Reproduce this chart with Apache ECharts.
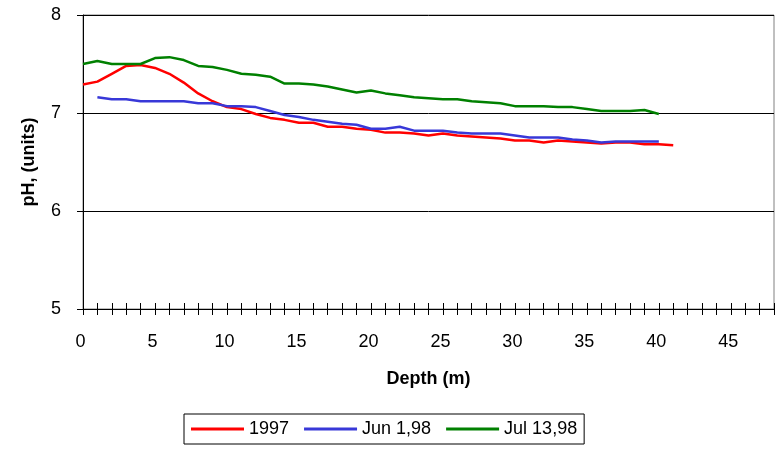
<!DOCTYPE html>
<html>
<head>
<meta charset="utf-8">
<script src="https://cdn.jsdelivr.net/npm/echarts@6/dist/echarts.min.js"></script>
<style>
  html, body { margin: 0; padding: 0; background: #fff; }
  #chart { width: 779px; height: 450px; }
</style>
</head>
<body>
<div id="chart"></div>
<script>
// pH profiles against depth (m)
const seriesNames = ['1997', 'Jun 1,98', 'Jul 13,98'];

const depth1997 = [0,1,2,3,4,5,6,7,8,9,10,11,12,13,14,15,16,17,18,19,20,
  21,22,23,24,25,26,27,28,29,30,31,32,33,34,35,36,37,38,39,40,41];
const ph1997 = [7.29,7.32,7.40,7.48,7.49,7.46,7.40,7.31,7.20,7.12,7.06,7.04,6.99,6.95,6.93,6.90,6.90,6.86,6.86,6.84,6.83,
  6.80,6.80,6.79,6.77,6.79,6.77,6.76,6.75,6.74,6.72,6.72,6.70,6.72,6.71,6.70,6.69,6.70,6.70,6.68,6.68,6.67];

const depthJun = [1,2,3,4,5,6,7,8,9,10,11,12,13,14,15,16,17,18,19,20,
  21,22,23,24,25,26,27,28,29,30,31,32,33,34,35,36,37,38,39,40];
const phJun = [7.16,7.14,7.14,7.12,7.12,7.12,7.12,7.10,7.10,7.07,7.07,7.06,7.02,6.98,6.96,6.93,6.91,6.89,6.88,6.84,
  6.84,6.86,6.82,6.82,6.82,6.80,6.79,6.79,6.79,6.77,6.75,6.75,6.75,6.73,6.72,6.70,6.71,6.71,6.71,6.71];

const depthJul = [0,1,2,3,4,5,6,7,8,9,10,11,12,13,14,15,16,17,18,19,20,
  21,22,23,24,25,26,27,28,29,30,31,32,33,34,35,36,37,38,39,40];
const phJul = [7.50,7.53,7.50,7.50,7.50,7.56,7.57,7.54,7.48,7.47,7.44,7.40,7.39,7.37,7.30,7.30,7.29,7.27,7.24,7.21,7.23,
  7.20,7.18,7.16,7.15,7.14,7.14,7.12,7.11,7.10,7.07,7.07,7.07,7.06,7.06,7.04,7.02,7.02,7.02,7.03,6.99];

const xMin = 0, xMax = 48, xStep = 1, xLabelEvery = 5;
const yMin = 5, yMax = 8, yStep = 1;

const colors = ['#ff0000', '#3838d8', '#008000'];
const FONT = 'Liberation Sans, Arial, sans-serif';

function pairs(xs, ys) { return xs.map((x, i) => [x, ys[i]]); }

const chart = echarts.init(document.getElementById('chart'), null, { renderer: 'canvas' });

const baseX = {
  type: 'value', min: xMin, max: xMax, interval: xStep,
  position: 'bottom', splitLine: { show: false }
};

chart.setOption({
  animation: false,
  backgroundColor: '#fff',
  grid: {
    left: 83, right: 5, top: 15, bottom: 141,
    show: true, borderColor: '#808080', borderWidth: 1, backgroundColor: 'transparent'
  },
  legend: {
    data: seriesNames,
    left: 184, top: 414,
    padding: [6, 7, 6, 7],
    itemGap: 15,
    itemWidth: 53, itemHeight: 3,
    icon: 'rect',
    borderColor: '#000', borderWidth: 1,
    textStyle: { fontFamily: FONT, fontSize: 18, color: '#000' }
  },
  xAxis: [
    Object.assign({}, baseX, {
      name: 'Depth (m)',
      nameLocation: 'middle',
      nameGap: 61,
      nameTextStyle: { fontFamily: FONT, fontSize: 18, fontWeight: 'bold', color: '#000' },
      axisLine: { lineStyle: { color: '#000', width: 1 } },
      axisTick: { inside: false, length: 6, lineStyle: { color: '#000' } },
      axisLabel: {
        margin: 24, fontFamily: FONT, fontSize: 18, color: '#000',
        padding: [0, 5, 0, 0],
        formatter: v => (v % xLabelEvery === 0 ? String(v) : '')
      }
    }),
    Object.assign({}, baseX, {
      axisLine: { show: false },
      axisTick: { inside: true, length: 6, lineStyle: { color: '#000' } },
      axisLabel: { show: false }
    })
  ],
  yAxis: {
    type: 'value', min: yMin, max: yMax, interval: yStep,
    name: 'pH, (units)',
    nameLocation: 'middle',
    nameGap: 45,
    nameRotate: 90,
    nameTextStyle: { fontFamily: FONT, fontSize: 18, fontWeight: 'bold', color: '#000' },
    axisLine: { show: true, lineStyle: { color: '#000', width: 1 } },
    axisTick: { show: true, inside: false, length: 6, lineStyle: { color: '#000' } },
    axisLabel: { margin: 22, fontFamily: FONT, fontSize: 18, color: '#000' },
    splitLine: { show: true, lineStyle: { color: '#000', width: 1 } }
  },
  series: [
    { name: seriesNames[0], data: pairs(depth1997, ph1997) },
    { name: seriesNames[1], data: pairs(depthJun, phJun) },
    { name: seriesNames[2], data: pairs(depthJul, phJul) }
  ].map((s, i) => Object.assign(s, {
    type: 'line', xAxisIndex: 0, showSymbol: false, symbol: 'none',
    color: colors[i],
    lineStyle: { color: colors[i], width: 2.5 }
  }))
});
</script>
</body>
</html>
